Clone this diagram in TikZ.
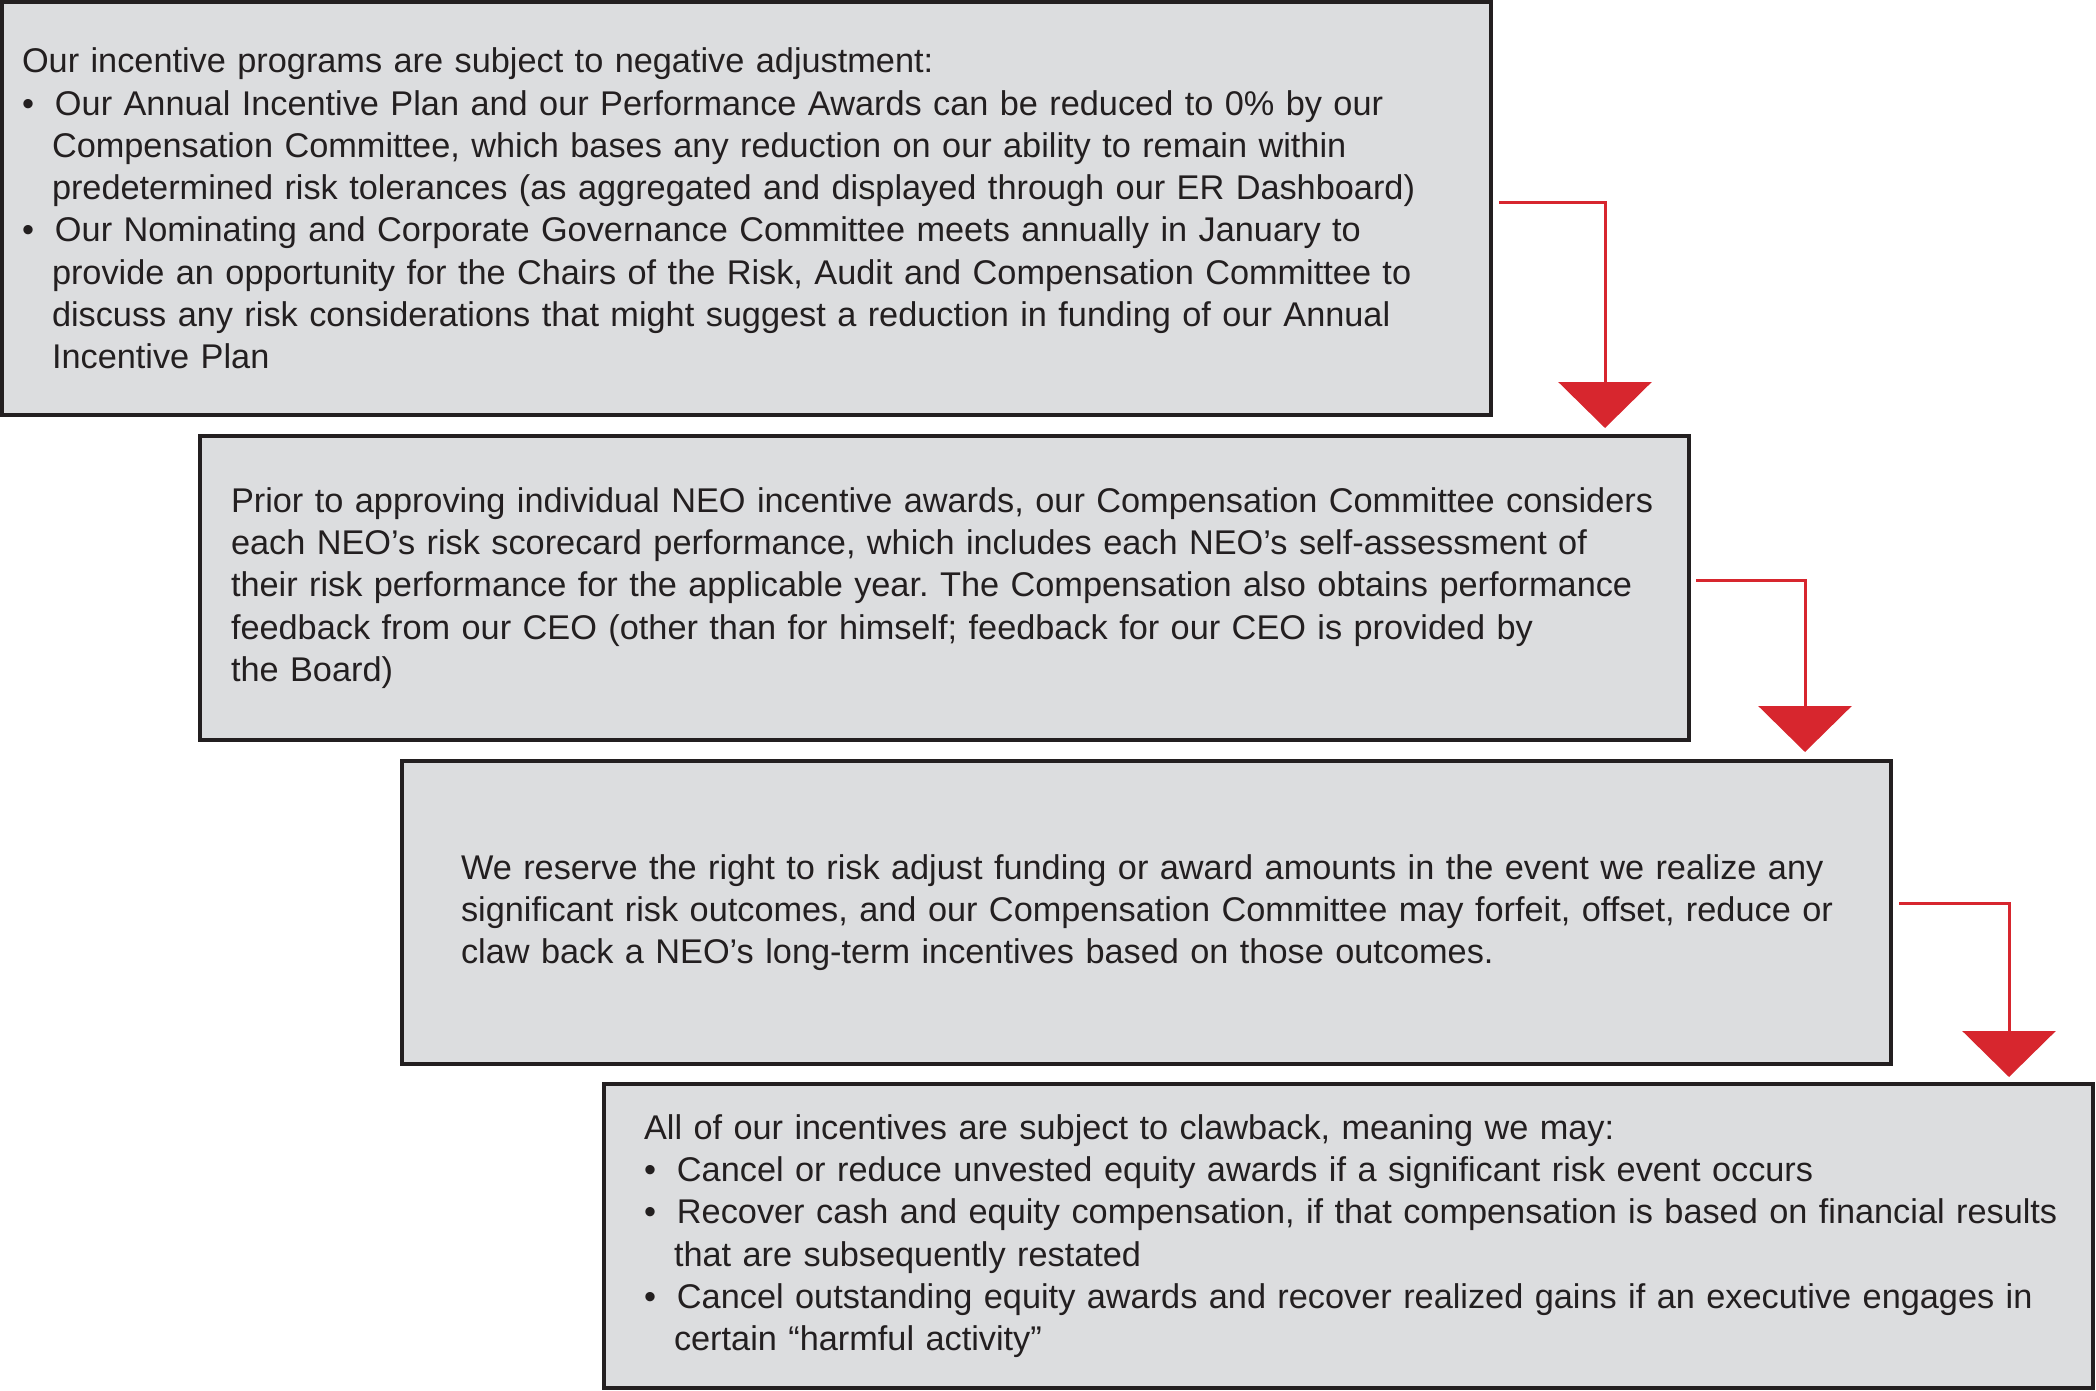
\documentclass[tikz,border=0pt]{standalone}
\usepackage{fontspec}
\setmainfont{Liberation Sans}
\usetikzlibrary{arrows.meta,calc}
\definecolor{boxfill}{HTML}{DCDDDF}
\definecolor{boxline}{HTML}{231F20}
\definecolor{flowred}{HTML}{D7262E}
\newcommand{\bpt}{\makebox[33pt][l]{\textbullet}}
\newcommand{\bind}{\hspace*{30pt}}
\frenchspacing

\begin{document}
\begin{tikzpicture}[x=1pt,y=1pt,
  panel/.style={draw=boxline,line width=4pt,fill=boxfill,text=boxline,
    inner xsep=0pt,inner ysep=0pt,text width=1489pt,align=left,anchor=north west,
    font=\fontsize{34.3pt}{42.3pt}\selectfont},
  flow/.style={draw=flowred,line width=3pt,-{Triangle[width=93pt,length=46pt]}}]
\useasboundingbox (0,0) rectangle (2096,-1390);
% the four panels, each one step right and down
\node[panel,minimum height=413pt] (b1) at (0,0) {\leftskip=20pt
Our incentive programs are subject to negative adjustment:\\
\bpt Our Annual Incentive Plan and our Performance Awards can be reduced to 0\% by our\\
\bind Compensation Committee, which bases any reduction on our ability to remain within\\
\bind predetermined risk tolerances (as aggregated and displayed through our ER Dashboard)\\
\bpt Our Nominating and Corporate Governance Committee meets annually in January to\\
\bind provide an opportunity for the Chairs of the Risk, Audit and Compensation Committee to\\
\bind discuss any risk considerations that might suggest a reduction in funding of our Annual\\
\bind Incentive Plan\par};
\node[panel,minimum height=304pt] (b2) at ([xshift=198pt,yshift=-17pt]b1.south west) {\leftskip=31pt
Prior to approving individual NEO incentive awards, our Compensation Committee considers\\
each NEO’s risk scorecard performance, which includes each NEO’s self-assessment of\\
their risk performance for the applicable year. The Compensation also obtains performance\\
feedback from our CEO (other than for himself; feedback for our CEO is provided by\\
the Board)\par};
\node[panel,minimum height=303pt] (b3) at ([xshift=202pt,yshift=-17pt]b2.south west) {\leftskip=59pt
We reserve the right to risk adjust funding or award amounts in the event we realize any\\
significant risk outcomes, and our Compensation Committee may forfeit, offset, reduce or\\
claw back a NEO’s long-term incentives based on those outcomes.\par};
\node[panel,minimum height=304pt] (b4) at ([xshift=202pt,yshift=-16pt]b3.south west) {\leftskip=40pt
All of our incentives are subject to clawback, meaning we may:\\
\bpt Cancel or reduce unvested equity awards if a significant risk event occurs\\
\bpt Recover cash and equity compensation, if that compensation is based on financial results\\
\bind that are subsequently restated\\
\bpt Cancel outstanding equity awards and recover realized gains if an executive engages in\\
\bind certain “harmful activity”\par};
% red elbow arrows
\draw[flow] ([xshift=6pt,yshift=6pt]b1.east) -| ($(b1.east |- b2.north)+(112pt,6pt)$);
\draw[flow] ([xshift=5pt,yshift=8pt]b2.east) -| ($(b2.east |- b3.north)+(114pt,7pt)$);
\draw[flow] ([xshift=6pt,yshift=9pt]b3.east) -| ($(b3.east |- b4.north)+(116pt,5pt)$);
\end{tikzpicture}
\end{document}
